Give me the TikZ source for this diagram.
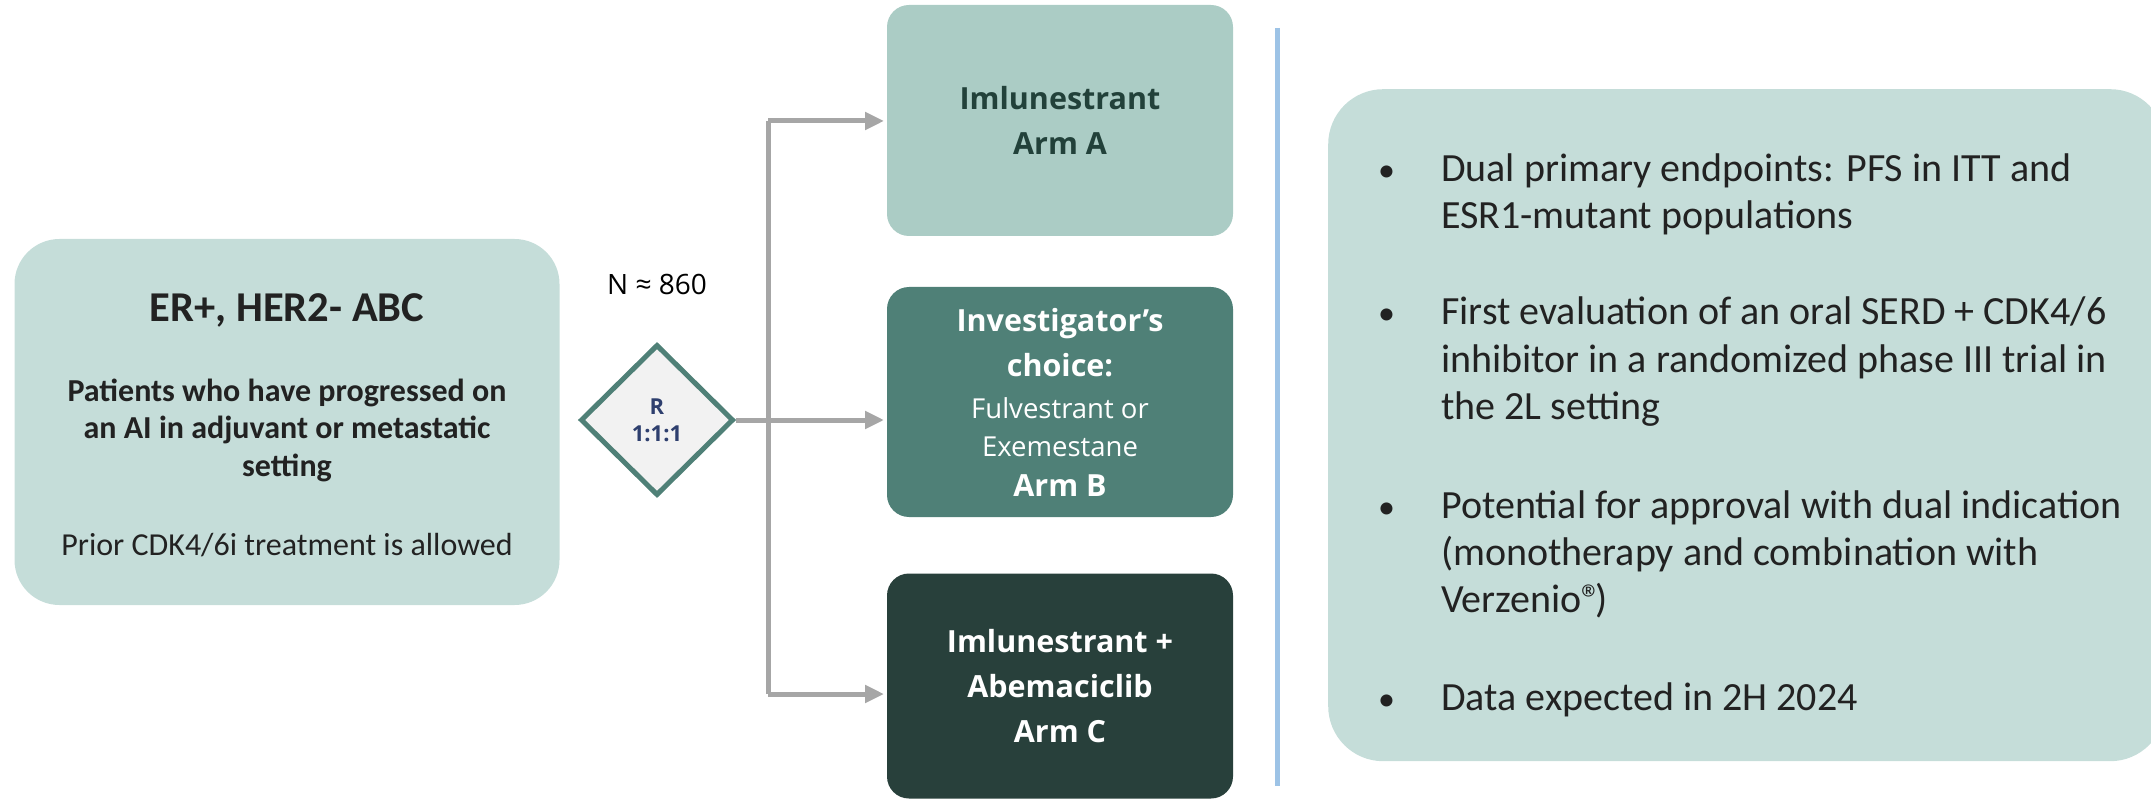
\documentclass[tikz,border=0pt]{standalone}
\usepackage{fontspec}
\setmainfont{Carlito}
\newfontfamily\osans{Open Sans}
\usetikzlibrary{arrows.meta,shapes.geometric}
\definecolor{boxbg}{HTML}{C5DDD9}
\definecolor{armA}{HTML}{ABCCC5}
\definecolor{armB}{HTML}{4F8077}
\definecolor{armC}{HTML}{28403B}
\definecolor{armAtxt}{HTML}{22413A}
\definecolor{txt}{HTML}{222222}
\definecolor{conn}{HTML}{A6A6A6}
\definecolor{divider}{HTML}{9DC3E6}
\definecolor{rtxt}{HTML}{2E3F6E}
\definecolor{diafill}{HTML}{F2F2F2}
\tikzset{
  panel/.style={fill=boxbg, rounded corners=45pt, inner sep=0pt},
  armbox/.style={rounded corners=22pt, inner sep=0pt, minimum width=346pt, align=center,
     font=\osans\bfseries\fontsize{30.5}{45}\selectfont},
  connector/.style={draw=conn, line width=5pt, -{Triangle[length=19pt,width=17pt]}},
  plainline/.style={draw=conn, line width=5pt},
  bul/.style={anchor=base west, font=\fontsize{40}{47}\selectfont, text=txt, inner sep=0pt},
}
\newcommand{\armsmall}{\mdseries\fontsize{27.5}{38}\selectfont}
\begin{document}
\begin{tikzpicture}[x=1pt,y=-1pt]
\useasboundingbox (0,0) rectangle (2151,799);
% left box
\node[panel, minimum width=545pt, minimum height=366pt] (pop) at (287,422) {};
\node[font=\bfseries\fontsize{42.5}{48}\selectfont, text=txt] (title) at (287,310) {ER+, HER2- ABC};
\node[font=\bfseries\fontsize{32}{37.5}\selectfont, text=txt, align=center] (sub) at (287,430)
  {Patients who have progressed on\\an AI in adjuvant or metastatic\\setting};
\node[font=\fontsize{32}{37}\selectfont, text=txt] (prior) at (287,545) {Prior CDK4/6i treatment is allowed};
% N
\node[font=\osans\fontsize{28}{34}\selectfont, text=black] (n) at (657,284) {N ≈ 860};
% diamond
\node[diamond, draw=armB, line width=5pt, fill=diafill, minimum width=153pt, minimum height=151pt,
      inner sep=0pt, align=center, text=rtxt, font=\osans\bfseries\fontsize{22}{27}\selectfont] (dia) at (657,420) {R\\1:1:1};
% arms
\node[armbox, fill=armA, text=armAtxt, minimum height=231pt] (armA) at (1060,120.5) {Imlunestrant\\Arm A};
\node[armbox, fill=armB, text=white, minimum height=230pt] (armB) at (1060,402)
  {Investigator’s\\choice:\\[-3pt]{\armsmall Fulvestrant or}\\[-7pt]{\armsmall Exemestane}\\[-5pt]Arm B};
\node[armbox, fill=armC, text=white, minimum height=225pt] (armC) at (1060,686)
  {Imlunestrant +\\Abemaciclib\\Arm C};
% connectors
\coordinate (split) at (768,420);
\coordinate (tipA) at (884,121);
\coordinate (tipB) at (884,420);
\coordinate (tipC) at (884,694);
\draw[plainline] (split |- tipA) -- (split |- tipC);
\draw[connector] (dia.east) -- (tipB);
\draw[connector] (split |- tipA) -- (tipA);
\draw[connector] (split |- tipC) -- (tipC);
% divider
\coordinate (dvt) at (1277,28);
\coordinate (dvb) at (1277,786);
\draw[draw=divider, line width=5pt] (dvt) -- (dvb);
% right box
\node[panel, rounded corners=55pt, minimum width=837pt, minimum height=672pt, anchor=north west] (notes) at (1328,89) {};
\foreach \y/\t in {182/{Dual primary endpoints: PFS in ITT and},
                   229/{ESR1-mutant populations},
                   325/{First evaluation of an oral SERD + CDK4/6},
                   372/{inhibitor in a randomized phase III trial in},
                   419/{the 2L setting},
                   518/{Potential for approval with dual indication},
                   565/{(monotherapy and combination with},
                   612/{Verzenio®\kern-7pt)},
                   710/{Data expected in 2H 2024}}
  {\node[bul] at (1441,\y) {\t};}
\foreach \y in {182,325,518,710}
  {\node[bul, font=\fontsize{34}{47}\selectfont] at (1378,\y) {•};}
\end{tikzpicture}
\end{document}
